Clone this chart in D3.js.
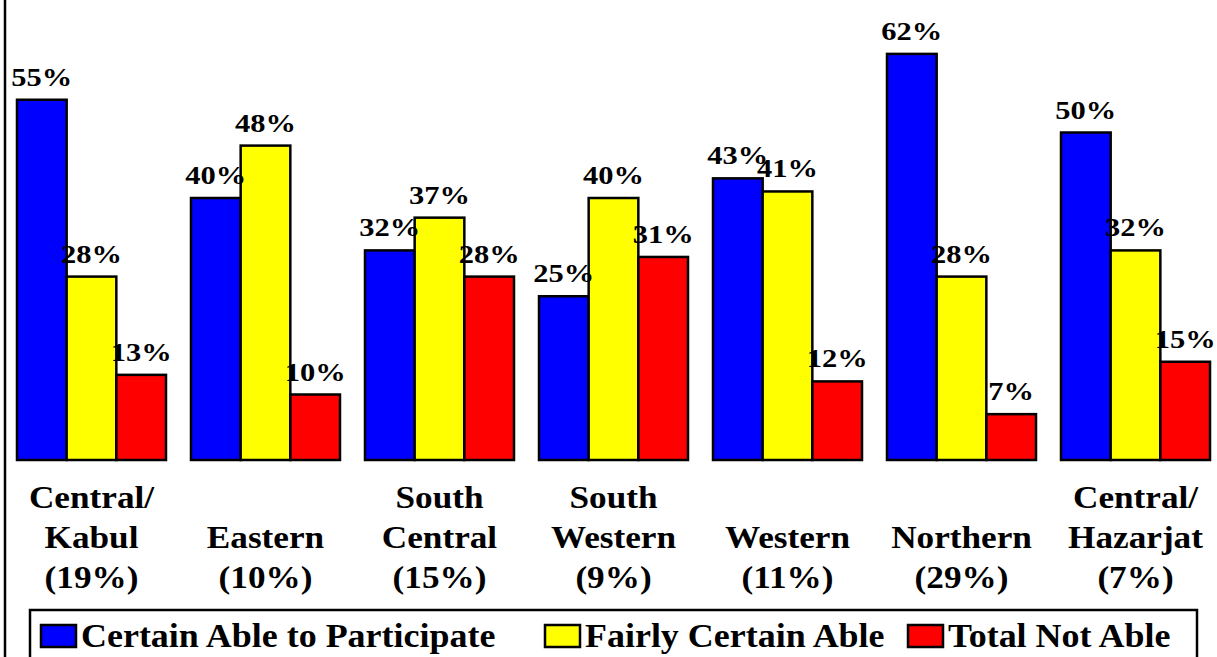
<!DOCTYPE html>
<html><head><meta charset="utf-8">
<script src="https://cdn.jsdelivr.net/npm/d3@7"></script>
</head><body style="margin:0">
<script>
const categories = [["Central/","Kabul","(19%)"],["Eastern","(10%)"],["South","Central","(15%)"],["South","Western","(9%)"],["Western","(11%)"],["Northern","(29%)"],["Central/","Hazarjat","(7%)"]];
const seriesNames = ["Certain Able to Participate","Fairly Certain Able","Total Not Able"];
const certain = [55,40,32,25,43,62,50];
const fairly = [28,48,37,40,41,28,32];
const notAble = [13,10,28,31,12,7,15];
const colors = ["#0000ff","#ffff00","#ff0000"];

const W=1217,H=657;
const svg=d3.select("body").append("svg").attr("width",W).attr("height",H);

function label(sel,txt,size){
  return sel.append("text").style("font-family",'"Liberation Serif"').style("font-weight","bold")
    .style("font-size",size+"px").style("fill","#000").text(txt);
}

const x0=d3.scaleBand().domain(d3.range(categories.length)).range([4.5,1222.5]).paddingInner(0.1437).paddingOuter(0.0718);
const x1=d3.scaleBand().domain([0,1,2]).range([0,x0.bandwidth()]);
const y=d3.scaleLinear().domain([0,100]).range([460,-195]);
const series=[certain,fairly,notAble];

svg.append("line").attr("x1",5).attr("x2",5).attr("y1",0).attr("y2",H).attr("stroke","#000").attr("stroke-width",2.5);

const groups=svg.selectAll("g.grp").data(categories).enter().append("g").attr("class","grp")
  .attr("transform",(d,i)=>`translate(${x0(i)},0)`);
groups.each(function(d,i){
  const g=d3.select(this);
  series.forEach((s,k)=>{
    g.append("rect").attr("x",x1(k)).attr("width",x1.bandwidth()).attr("y",y(s[i])).attr("height",y(0)-y(s[i]))
      .attr("fill",colors[k]).attr("stroke","#000").attr("stroke-width",2.5);
  });
});
groups.each(function(d,i){
  const g=d3.select(this);
  series.forEach((s,k)=>{
    const gg=g.append("g").attr("transform",`translate(${x1(k)+x1.bandwidth()/2},${y(s[i])-14}) scale(1.22,1)`);
    label(gg,s[i]+"%",25).attr("text-anchor","middle");
  });
  const n=d.length;
  d.forEach((line,j)=>{
    const gg=g.append("g").attr("transform",`translate(${x0.bandwidth()/2},${588-(n-1-j)*40}) scale(1.1,1)`);
    label(gg,line,32).attr("text-anchor","middle");
  });
});

svg.append("rect").attr("x",30).attr("y",610).attr("width",1167).attr("height",60).attr("fill","none").attr("stroke","#000").attr("stroke-width",2.5);
const legX=[41,545,908];
seriesNames.forEach((nm,k)=>{
  svg.append("rect").attr("x",legX[k]).attr("y",625).attr("width",35).attr("height",22).attr("fill",colors[k]).attr("stroke","#000").attr("stroke-width",2.5);
  const gg=svg.append("g").attr("transform",`translate(${legX[k]+40},647) scale(1.09,1)`);
  label(gg,nm,33);
});
</script>
</body></html>
